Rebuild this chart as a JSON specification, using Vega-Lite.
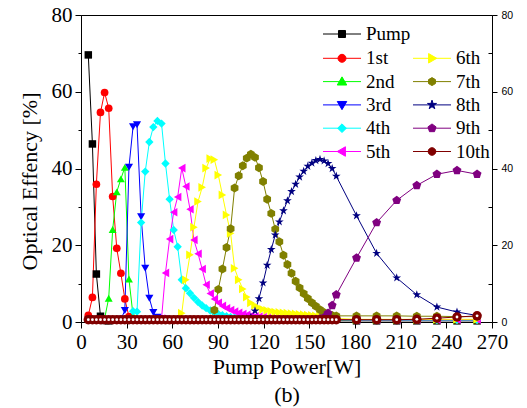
{
  "$schema": "https://vega.github.io/schema/vega-lite/v6.json",
  "width": 411,
  "height": 307,
  "autosize": "none",
  "padding": {"left": 81, "top": 15, "right": 35, "bottom": 86},
  "background": "white",
  "config": {
    "view": {"stroke": "black", "strokeWidth": 1},
    "axis": {"grid": false, "domainColor": "black", "tickColor": "black", "labelColor": "black", "titleColor": "black", "domainWidth": 1, "tickWidth": 1, "labelFont": "Liberation Serif", "titleFont": "Liberation Serif", "titleFontWeight": "normal"},
    "legend": {"orient": "none", "legendX": 251, "legendY": 8, "columns": 2, "padding": 0, "rowPadding": 3.3, "columnPadding": 0, "labelFont": "Liberation Serif", "labelFontSize": 19, "labelColor": "black", "labelOffset": 14, "symbolSize": 361, "symbolStrokeWidth": 1, "titleFontSize": 0}
  },
  "datasets": {
    "d": [
      {"s":"Pump","x":4.8,"y":69.6},{"s":"Pump","x":7.5,"y":46.4},{"s":"Pump","x":10.1,"y":12.5},{"s":"Pump","x":12.8,"y":1.5},{"s":"Pump","x":15.5,"y":0.4},{"s":"Pump","x":18.2,"y":0.3},
      {"s":"Pump","x":181.0,"y":0.3},{"s":"Pump","x":194.2,"y":0.3},{"s":"Pump","x":207.4,"y":0.3},{"s":"Pump","x":220.6,"y":0.3},{"s":"Pump","x":233.8,"y":0.3},{"s":"Pump","x":247.0,"y":0.3},{"s":"Pump","x":260.2,"y":0.3},
      {"s":"1st","x":4.8,"y":1.7},{"s":"1st","x":7.5,"y":6.4},{"s":"1st","x":10.1,"y":35.9},{"s":"1st","x":12.8,"y":54.6},{"s":"1st","x":15.5,"y":59.8},{"s":"1st","x":18.2,"y":55.7},{"s":"1st","x":20.8,"y":32.7},{"s":"1st","x":23.5,"y":19.2},{"s":"1st","x":26.2,"y":12.7},{"s":"1st","x":28.8,"y":6.0},{"s":"1st","x":31.5,"y":1.4},{"s":"1st","x":34.2,"y":0.8},{"s":"1st","x":36.8,"y":0.6},
      {"s":"1st","x":181.0,"y":0.5},{"s":"1st","x":194.2,"y":0.5},{"s":"1st","x":207.4,"y":0.5},{"s":"1st","x":220.6,"y":0.5},{"s":"1st","x":233.8,"y":0.5},{"s":"1st","x":247.0,"y":0.5},{"s":"1st","x":260.2,"y":0.5},
      {"s":"2nd","x":12.8,"y":0.6},{"s":"2nd","x":15.5,"y":0.9},{"s":"2nd","x":18.2,"y":6.2},{"s":"2nd","x":20.8,"y":24.1},{"s":"2nd","x":23.5,"y":33.9},{"s":"2nd","x":26.2,"y":37.3},{"s":"2nd","x":28.8,"y":40.3},{"s":"2nd","x":31.5,"y":11.2},{"s":"2nd","x":34.2,"y":1.7},{"s":"2nd","x":36.8,"y":1.0},{"s":"2nd","x":39.5,"y":0.8},{"s":"2nd","x":42.2,"y":0.8},{"s":"2nd","x":44.9,"y":0.8},{"s":"2nd","x":47.5,"y":0.8},{"s":"2nd","x":50.2,"y":0.7},{"s":"2nd","x":52.9,"y":0.7},{"s":"2nd","x":55.5,"y":0.7},
      {"s":"2nd","x":181.0,"y":0.6},{"s":"2nd","x":194.2,"y":0.6},{"s":"2nd","x":207.4,"y":0.6},{"s":"2nd","x":220.6,"y":0.6},{"s":"2nd","x":233.8,"y":0.6},{"s":"2nd","x":247.0,"y":0.6},{"s":"2nd","x":260.2,"y":0.6},
      {"s":"3rd","x":23.5,"y":0.6},{"s":"3rd","x":26.2,"y":0.7},{"s":"3rd","x":28.8,"y":3.0},{"s":"3rd","x":31.5,"y":40.3},{"s":"3rd","x":34.2,"y":50.9},{"s":"3rd","x":36.8,"y":51.4},{"s":"3rd","x":39.5,"y":27.4},{"s":"3rd","x":42.2,"y":14.0},{"s":"3rd","x":44.9,"y":6.2},{"s":"3rd","x":47.5,"y":2.5},{"s":"3rd","x":50.2,"y":1.2},{"s":"3rd","x":52.9,"y":0.9},{"s":"3rd","x":55.5,"y":0.8},
      {"s":"3rd","x":181.0,"y":0.6},{"s":"3rd","x":194.2,"y":0.6},{"s":"3rd","x":207.4,"y":0.6},{"s":"3rd","x":220.6,"y":0.6},{"s":"3rd","x":233.8,"y":0.6},{"s":"3rd","x":247.0,"y":0.6},{"s":"3rd","x":260.2,"y":0.6},
      {"s":"4th","x":31.5,"y":0.7},{"s":"4th","x":34.2,"y":2.8},{"s":"4th","x":36.8,"y":2.7},{"s":"4th","x":39.5,"y":25.9},{"s":"4th","x":42.2,"y":39.2},{"s":"4th","x":44.9,"y":46.9},{"s":"4th","x":47.5,"y":50.8},{"s":"4th","x":50.2,"y":52.4},{"s":"4th","x":52.9,"y":51.7},{"s":"4th","x":55.5,"y":41.3},{"s":"4th","x":58.2,"y":32.0},{"s":"4th","x":60.9,"y":24.0},{"s":"4th","x":63.5,"y":19.6},{"s":"4th","x":66.2,"y":11.0},{"s":"4th","x":68.9,"y":8.8},{"s":"4th","x":71.6,"y":7.5},{"s":"4th","x":74.2,"y":6.3},{"s":"4th","x":76.9,"y":5.2},{"s":"4th","x":79.6,"y":4.3},{"s":"4th","x":82.2,"y":3.6},{"s":"4th","x":84.9,"y":3.0},{"s":"4th","x":87.6,"y":2.5},{"s":"4th","x":90.2,"y":2.1},{"s":"4th","x":92.9,"y":1.8},{"s":"4th","x":95.6,"y":1.5},{"s":"4th","x":98.3,"y":1.3},{"s":"4th","x":100.9,"y":1.2},{"s":"4th","x":103.6,"y":1.1},{"s":"4th","x":106.3,"y":1.0},{"s":"4th","x":108.9,"y":0.9},{"s":"4th","x":111.6,"y":0.8},
      {"s":"4th","x":181.0,"y":0.5},{"s":"4th","x":194.2,"y":0.5},{"s":"4th","x":207.4,"y":0.5},{"s":"4th","x":220.6,"y":0.5},{"s":"4th","x":233.8,"y":0.5},{"s":"4th","x":247.0,"y":0.5},{"s":"4th","x":260.2,"y":0.5},
      {"s":"5th","x":50.2,"y":0.7},{"s":"5th","x":52.9,"y":0.9},{"s":"5th","x":55.5,"y":12.8},{"s":"5th","x":58.2,"y":21.6},{"s":"5th","x":60.9,"y":28.6},{"s":"5th","x":63.5,"y":32.6},{"s":"5th","x":66.2,"y":40.1},{"s":"5th","x":68.9,"y":35.3},{"s":"5th","x":71.6,"y":29.4},{"s":"5th","x":74.2,"y":21.4},{"s":"5th","x":76.9,"y":17.8},{"s":"5th","x":79.6,"y":13.8},{"s":"5th","x":82.2,"y":9.7},{"s":"5th","x":84.9,"y":7.4},{"s":"5th","x":87.6,"y":6.0},{"s":"5th","x":90.2,"y":5.0},{"s":"5th","x":92.9,"y":4.2},{"s":"5th","x":95.6,"y":3.6},{"s":"5th","x":98.3,"y":3.1},{"s":"5th","x":100.9,"y":2.7},{"s":"5th","x":103.6,"y":2.4},{"s":"5th","x":106.3,"y":2.1},{"s":"5th","x":108.9,"y":1.9},{"s":"5th","x":111.6,"y":1.7},{"s":"5th","x":114.3,"y":1.5},{"s":"5th","x":116.9,"y":1.4},{"s":"5th","x":119.6,"y":1.3},{"s":"5th","x":122.3,"y":1.2},{"s":"5th","x":125.0,"y":1.1},{"s":"5th","x":127.6,"y":1.0},
      {"s":"5th","x":181.0,"y":0.6},{"s":"5th","x":194.2,"y":0.6},{"s":"5th","x":207.4,"y":0.6},{"s":"5th","x":220.6,"y":0.6},{"s":"5th","x":233.8,"y":0.6},{"s":"5th","x":247.0,"y":0.6},{"s":"5th","x":260.2,"y":0.6},
      {"s":"6th","x":63.5,"y":0.7},{"s":"6th","x":66.2,"y":2.3},{"s":"6th","x":68.9,"y":11.0},{"s":"6th","x":71.6,"y":17.5},{"s":"6th","x":74.2,"y":24.7},{"s":"6th","x":76.9,"y":31.4},{"s":"6th","x":79.6,"y":35.1},{"s":"6th","x":82.2,"y":40.1},{"s":"6th","x":84.9,"y":42.6},{"s":"6th","x":87.6,"y":42.3},{"s":"6th","x":90.2,"y":38.3},{"s":"6th","x":92.9,"y":33.1},{"s":"6th","x":95.6,"y":27.9},{"s":"6th","x":98.3,"y":23.1},{"s":"6th","x":100.9,"y":14.0},{"s":"6th","x":103.6,"y":11.0},{"s":"6th","x":106.3,"y":8.6},{"s":"6th","x":108.9,"y":6.5},{"s":"6th","x":111.6,"y":5.0},{"s":"6th","x":114.3,"y":4.3},{"s":"6th","x":116.9,"y":3.7},{"s":"6th","x":119.6,"y":3.3},{"s":"6th","x":122.3,"y":3.0},{"s":"6th","x":125.0,"y":2.8},{"s":"6th","x":127.6,"y":2.6},{"s":"6th","x":130.3,"y":2.5},{"s":"6th","x":133.0,"y":2.4},{"s":"6th","x":135.6,"y":2.3},{"s":"6th","x":138.3,"y":2.2},{"s":"6th","x":141.0,"y":2.1},{"s":"6th","x":143.6,"y":2.0},{"s":"6th","x":146.3,"y":1.9},{"s":"6th","x":149.0,"y":1.8},{"s":"6th","x":151.7,"y":1.7},{"s":"6th","x":154.3,"y":1.6},{"s":"6th","x":157.0,"y":1.5},{"s":"6th","x":159.7,"y":1.4},{"s":"6th","x":162.3,"y":1.3},{"s":"6th","x":165.0,"y":1.1},{"s":"6th","x":167.7,"y":0.9},
      {"s":"6th","x":181.0,"y":0.7},{"s":"6th","x":194.2,"y":0.7},{"s":"6th","x":207.4,"y":0.7},{"s":"6th","x":220.6,"y":0.7},{"s":"6th","x":233.8,"y":0.7},{"s":"6th","x":247.0,"y":0.7},{"s":"6th","x":260.2,"y":0.7},
      {"s":"7th","x":84.9,"y":0.7},{"s":"7th","x":87.6,"y":3.1},{"s":"7th","x":90.2,"y":8.5},{"s":"7th","x":92.9,"y":13.8},{"s":"7th","x":95.6,"y":19.4},{"s":"7th","x":98.3,"y":24.3},{"s":"7th","x":100.9,"y":34.9},{"s":"7th","x":103.6,"y":38.1},{"s":"7th","x":106.3,"y":40.7},{"s":"7th","x":108.9,"y":42.7},{"s":"7th","x":111.6,"y":43.7},{"s":"7th","x":114.3,"y":42.9},{"s":"7th","x":116.9,"y":40.2},{"s":"7th","x":119.6,"y":36.6},{"s":"7th","x":122.3,"y":32.0},{"s":"7th","x":125.0,"y":28.3},{"s":"7th","x":127.6,"y":24.2},{"s":"7th","x":130.3,"y":20.9},{"s":"7th","x":133.0,"y":17.4},{"s":"7th","x":135.6,"y":15.0},{"s":"7th","x":138.3,"y":12.7},{"s":"7th","x":141.0,"y":10.6},{"s":"7th","x":143.6,"y":8.9},{"s":"7th","x":146.3,"y":7.4},{"s":"7th","x":149.0,"y":6.1},{"s":"7th","x":151.7,"y":5.0},{"s":"7th","x":154.3,"y":4.1},{"s":"7th","x":157.0,"y":3.2},{"s":"7th","x":159.7,"y":2.5},{"s":"7th","x":162.3,"y":1.9},{"s":"7th","x":165.0,"y":1.7},{"s":"7th","x":167.7,"y":1.6},
      {"s":"7th","x":181.0,"y":1.6},{"s":"7th","x":194.2,"y":1.6},{"s":"7th","x":207.4,"y":1.6},{"s":"7th","x":220.6,"y":1.5},{"s":"7th","x":233.8,"y":1.5},{"s":"7th","x":247.0,"y":1.4},{"s":"7th","x":260.2,"y":1.4},
      {"s":"8th","x":106.3,"y":0.6},{"s":"8th","x":108.9,"y":0.8},{"s":"8th","x":111.6,"y":1.3},{"s":"8th","x":114.3,"y":2.9},{"s":"8th","x":116.9,"y":6.1},{"s":"8th","x":119.6,"y":10.2},{"s":"8th","x":122.3,"y":14.8},{"s":"8th","x":125.0,"y":18.9},{"s":"8th","x":127.6,"y":22.7},{"s":"8th","x":130.3,"y":26.1},{"s":"8th","x":133.0,"y":29.0},{"s":"8th","x":135.6,"y":31.6},{"s":"8th","x":138.3,"y":34.0},{"s":"8th","x":141.0,"y":35.9},{"s":"8th","x":143.6,"y":37.8},{"s":"8th","x":146.3,"y":39.3},{"s":"8th","x":149.0,"y":40.6},{"s":"8th","x":151.7,"y":41.4},{"s":"8th","x":154.3,"y":42.1},{"s":"8th","x":157.0,"y":42.4},{"s":"8th","x":159.7,"y":42.0},{"s":"8th","x":162.3,"y":41.3},{"s":"8th","x":165.0,"y":40.0},{"s":"8th","x":167.7,"y":38.0},
      {"s":"8th","x":181.0,"y":27.7},{"s":"8th","x":194.2,"y":17.9},{"s":"8th","x":207.4,"y":11.5},{"s":"8th","x":220.6,"y":7.1},{"s":"8th","x":233.8,"y":3.9},{"s":"8th","x":247.0,"y":2.6},{"s":"8th","x":260.2,"y":1.7},
      {"s":"9th","x":151.7,"y":0.6},{"s":"9th","x":154.3,"y":0.7},{"s":"9th","x":157.0,"y":0.9},{"s":"9th","x":159.7,"y":1.2},{"s":"9th","x":162.3,"y":2.3},{"s":"9th","x":165.0,"y":4.3},{"s":"9th","x":167.7,"y":7.1},
      {"s":"9th","x":181.0,"y":16.7},{"s":"9th","x":194.2,"y":25.9},{"s":"9th","x":207.4,"y":31.7},{"s":"9th","x":220.6,"y":35.6},{"s":"9th","x":233.8,"y":38.5},{"s":"9th","x":247.0,"y":39.5},{"s":"9th","x":260.2,"y":38.5},
      {"s":"10th","x":4.8,"y":0.6},{"s":"10th","x":7.5,"y":0.6},{"s":"10th","x":10.1,"y":0.6},{"s":"10th","x":12.8,"y":0.6},{"s":"10th","x":15.5,"y":0.6},{"s":"10th","x":18.2,"y":0.6},{"s":"10th","x":20.8,"y":0.6},{"s":"10th","x":23.5,"y":0.6},{"s":"10th","x":26.2,"y":0.6},{"s":"10th","x":28.8,"y":0.6},{"s":"10th","x":31.5,"y":0.6},{"s":"10th","x":34.2,"y":0.6},{"s":"10th","x":36.8,"y":0.6},{"s":"10th","x":39.5,"y":0.6},{"s":"10th","x":42.2,"y":0.6},{"s":"10th","x":44.9,"y":0.6},{"s":"10th","x":47.5,"y":0.6},{"s":"10th","x":50.2,"y":0.6},{"s":"10th","x":52.9,"y":0.6},{"s":"10th","x":55.5,"y":0.6},{"s":"10th","x":58.2,"y":0.6},{"s":"10th","x":60.9,"y":0.6},{"s":"10th","x":63.5,"y":0.6},{"s":"10th","x":66.2,"y":0.6},{"s":"10th","x":68.9,"y":0.6},{"s":"10th","x":71.6,"y":0.6},{"s":"10th","x":74.2,"y":0.6},{"s":"10th","x":76.9,"y":0.6},{"s":"10th","x":79.6,"y":0.6},{"s":"10th","x":82.2,"y":0.6},{"s":"10th","x":84.9,"y":0.6},{"s":"10th","x":87.6,"y":0.6},{"s":"10th","x":90.2,"y":0.6},{"s":"10th","x":92.9,"y":0.6},{"s":"10th","x":95.6,"y":0.6},{"s":"10th","x":98.3,"y":0.6},{"s":"10th","x":100.9,"y":0.6},{"s":"10th","x":103.6,"y":0.6},{"s":"10th","x":106.3,"y":0.6},{"s":"10th","x":108.9,"y":0.6},{"s":"10th","x":111.6,"y":0.6},{"s":"10th","x":114.3,"y":0.6},{"s":"10th","x":116.9,"y":0.6},{"s":"10th","x":119.6,"y":0.6},{"s":"10th","x":122.3,"y":0.6},{"s":"10th","x":125.0,"y":0.6},{"s":"10th","x":127.6,"y":0.6},{"s":"10th","x":130.3,"y":0.6},{"s":"10th","x":133.0,"y":0.6},{"s":"10th","x":135.6,"y":0.6},{"s":"10th","x":138.3,"y":0.6},{"s":"10th","x":141.0,"y":0.6},{"s":"10th","x":143.6,"y":0.6},{"s":"10th","x":146.3,"y":0.6},{"s":"10th","x":149.0,"y":0.6},{"s":"10th","x":151.7,"y":0.6},{"s":"10th","x":154.3,"y":0.6},{"s":"10th","x":157.0,"y":0.6},{"s":"10th","x":159.7,"y":0.6},{"s":"10th","x":162.3,"y":0.6},{"s":"10th","x":165.0,"y":0.6},{"s":"10th","x":167.7,"y":0.6},
      {"s":"10th","x":181.0,"y":0.6},{"s":"10th","x":194.2,"y":0.6},{"s":"10th","x":207.4,"y":0.6},{"s":"10th","x":220.6,"y":0.7},{"s":"10th","x":233.8,"y":1.0},{"s":"10th","x":247.0,"y":1.3},{"s":"10th","x":260.2,"y":1.6}
    ]
  },
  "resolve": {"scale": {"shape": "independent", "fill": "independent", "stroke": "independent"}, "axis": {"y": "independent"}},
  "layer": [
    {
      "data": {"name": "d"},
      "mark": {"type": "line", "strokeWidth": 1},
      "encoding": {
        "x": {"field": "x", "type": "quantitative", "scale": {"domain": [0, 270], "nice": false},
          "axis": {"values": [0,15,30,45,60,75,90,105,120,135,150,165,180,195,210,225,240,255,270], "labelExpr": "datum.value % 30 === 0 ? datum.label : ''", "tickSize": {"condition": {"test": "datum.value % 30 === 0", "value": 6}, "value": 3}, "labelFontSize": 21, "labelPadding": 3, "labelFlush": false, "labelOverlap": false, "title": ["Pump Power[W]", "(b)"], "titleFontSize": 22, "titleLineHeight": 28, "titlePadding": 4}},
        "y": {"field": "y", "type": "quantitative", "scale": {"domain": [0, 80], "nice": false},
          "axis": {"orient": "left", "values": [0,10,20,30,40,50,60,70,80], "labelExpr": "datum.value % 20 === 0 ? datum.label : ''", "tickSize": {"condition": {"test": "datum.value % 20 === 0", "value": 6}, "value": 3}, "labelFontSize": 21, "labelPadding": 3, "labelFlush": false, "labelOverlap": false, "title": "Optical Effency [%]", "titleFontSize": 22, "titlePadding": 10, "titleY": 166}},
        "color": {"field": "s", "type": "nominal", "scale": {"domain": ["Pump","1st","2nd","3rd","4th","5th","6th","7th","8th","9th","10th"], "range": ["#000000","#FF0000","#00FF00","#0000FF","#00FFFF","#FF00FF","#FFFF00","#808000","#000080","#800080","#800000"]}, "legend": null}
      }
    },
    {
      "data": {"name": "d"},
      "mark": {"type": "point", "filled": true, "opacity": 1},
      "encoding": {
        "x": {"field": "x", "type": "quantitative", "scale": {"domain": [0, 270], "nice": false}},
        "y": {"field": "y", "type": "quantitative", "scale": {"domain": [0, 80], "nice": false},
          "axis": {"orient": "right", "values": [0,10,20,30,40,50,60,70,80], "labelExpr": "datum.value % 20 === 0 ? datum.label : ''", "tickSize": {"condition": {"test": "datum.value % 20 === 0", "value": 5}, "value": -4}, "labelFont": "Liberation Sans", "labelFontSize": 10.5, "labelPadding": 4, "labelFlush": false, "labelOverlap": false, "title": null}},
        "color": {"field": "s", "type": "nominal", "scale": {"domain": ["Pump","1st","2nd","3rd","4th","5th","6th","7th","8th","9th","10th"], "range": ["#000000","#FF0000","#00FF00","#0000FF","#00FFFF","#FF00FF","#FFFF00","#808000","#000080","#800080","#800000"]}, "legend": null},
        "shape": {"field": "s", "type": "nominal", "scale": {"domain": ["Pump","1st","2nd","3rd","4th","5th","6th","7th","8th","9th","10th"], "range": ["square","circle","triangle-up","triangle-down","diamond","triangle-left","triangle-right","M0,-1L0.866,-0.5L0.866,0.5L0,1L-0.866,0.5L-0.866,-0.5Z","M0,-1L0.2245,-0.309L0.951,-0.309L0.363,0.118L0.588,0.809L0,0.382L-0.588,0.809L-0.363,0.118L-0.951,-0.309L-0.2245,-0.309Z","M0,-1L0.951,-0.309L0.588,0.809L-0.588,0.809L-0.951,-0.309Z","circle"]}, "legend": null},
        "size": {"field": "s", "type": "ordinal", "scale": {"domain": ["Pump","1st","2nd","3rd","4th","5th","6th","7th","8th","9th","10th"], "range": [56,90,120,120,110,120,120,95,150,105,72]}, "legend": null}
      }
    },
    {
      "data": {"name": "d"},
      "transform": [{"filter": "datum.s === '10th'"}],
      "mark": {"type": "point", "filled": true, "opacity": 1, "color": "white", "size": 8},
      "encoding": {
        "x": {"field": "x", "type": "quantitative", "scale": {"domain": [0, 270], "nice": false}},
        "y": {"field": "y", "type": "quantitative", "scale": {"domain": [0, 80], "nice": false}, "axis": null}
      }
    },
    {
      "data": {"values": []},
      "mark": {"type": "point", "filled": true, "opacity": 1},
      "encoding": {
        "fill": {"field": "s", "type": "nominal", "title": null, "scale": {"domain": ["Pump","1st","2nd","3rd","4th","5th"," ","6th","7th","8th","9th","10th"], "range": ["#000000","#FF0000","#00FF00","#0000FF","#00FFFF","#FF00FF","transparent","#FFFF00","#808000","#000080","#800080","#800000"]}},
        "stroke": {"field": "s", "type": "nominal", "title": null, "scale": {"domain": ["Pump","1st","2nd","3rd","4th","5th"," ","6th","7th","8th","9th","10th"], "range": ["#000000","#FF0000","#00FF00","#0000FF","#00FFFF","#FF00FF","transparent","#FFFF00","#808000","#000080","#800080","#800000"]}},
        "shape": {"field": "s", "type": "nominal", "title": null, "scale": {"domain": ["Pump","1st","2nd","3rd","4th","5th"," ","6th","7th","8th","9th","10th"], "range": [
          "M-2,0L2,0M-0.37,-0.37L0.37,-0.37L0.37,0.37L-0.37,0.37Z",
          "M-2,0L2,0M0.42,0A0.42,0.42,0,1,1,-0.42,0A0.42,0.42,0,1,1,0.42,0Z",
          "M-2,0L2,0M0,-0.5L0.5,0.36L-0.5,0.36Z",
          "M-2,0L2,0M0,0.5L0.5,-0.36L-0.5,-0.36Z",
          "M-2,0L2,0M0,-0.46L0.46,0L0,0.46L-0.46,0Z",
          "M-2,0L2,0M-0.5,0L0.36,-0.5L0.36,0.5Z",
          "circle",
          "M-2,0L2,0M0.5,0L-0.36,-0.5L-0.36,0.5Z",
          "M-2,0L2,0M0,-0.42L0.364,-0.21L0.364,0.21L0,0.42L-0.364,0.21L-0.364,-0.21Z",
          "M-2,0L2,0M0,-0.5L0.112,-0.155L0.476,-0.155L0.182,0.059L0.294,0.405L0,0.191L-0.294,0.405L-0.182,0.059L-0.476,-0.155L-0.112,-0.155Z",
          "M-2,0L2,0M0,-0.45L0.428,-0.139L0.265,0.364L-0.265,0.364L-0.428,-0.139Z",
          "M-2,0L2,0M0.4,0A0.4,0.4,0,1,1,-0.4,0A0.4,0.4,0,1,1,0.4,0Z"
        ]}}
      }
    }
  ]
}
